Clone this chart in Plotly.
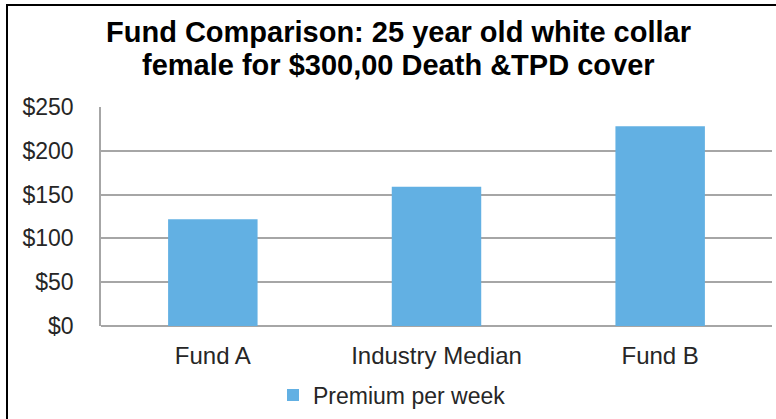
import plotly.graph_objects as go

categories = ["Fund A", "Industry Median", "Fund B"]
premium = [122, 159, 228]
y_ticks = [0, 50, 100, 150, 200, 250]
y_tick_labels = ["$0", "$50", "$100", "$150", "$200", "$250"]
series_name = "Premium per week"
title_lines = ["Fund Comparison: 25 year old white collar",
               "female for $300,00 Death &TPD cover"]

FONT = "Liberation Sans, Arial, sans-serif"
W, H = 776, 419
L, R, T, B = 101, 4, 107, 93

fig = go.Figure()
fig.add_trace(go.Bar(
    x=categories, y=premium, name=series_name,
    marker=dict(color="#62B0E3", line=dict(width=0)),
    showlegend=True,
))

pw = W - L - R
ph = H - T - B

def px_x(px):
    return (px - L) / pw

def px_y(py):
    return (H - B - py) / ph

fig.update_layout(
    width=W, height=H,
    margin=dict(l=L, r=R, t=T, b=B, pad=0, autoexpand=False),
    paper_bgcolor="white", plot_bgcolor="white",
    font=dict(family=FONT, size=23, color="#262626"),
    bargap=0.6,
    xaxis=dict(
        showgrid=False, showline=False, zeroline=False,
        ticks="outside", ticklen=8, tickcolor="rgba(0,0,0,0)",
        tickfont=dict(size=24, color="#262626"),
        fixedrange=True, automargin=False,
    ),
    yaxis=dict(
        range=[0, 250], tickvals=y_ticks, ticktext=y_tick_labels,
        showgrid=True, gridcolor="#A6A6A6", gridwidth=1.5,
        showline=True, linecolor="#A6A6A6", linewidth=1.5,
        zeroline=True, zerolinecolor="#A6A6A6", zerolinewidth=1.5,
        ticks="outside", ticklen=21, tickcolor="rgba(0,0,0,0)",
        tickfont=dict(size=23, color="#262626"),
        fixedrange=True, automargin=False,
    ),
    legend=dict(
        orientation="h", x=px_x(392), xanchor="center",
        y=px_y(395), yanchor="middle",
        font=dict(size=23, color="#262626"),
        bgcolor="rgba(0,0,0,0)",
        itemwidth=30,
    ),
    hovermode=False,
)

# Two-line chart title, placed as text annotations for tight line spacing
for line, cy in zip(title_lines, [32, 65]):
    fig.add_annotation(
        text="<b>" + line + "</b>", showarrow=False,
        xref="paper", yref="paper", x=px_x(398), y=px_y(cy),
        xanchor="center", yanchor="middle",
        font=dict(family=FONT, size=29, color="black"),
    )

# Outer chart frame (only left and top edges visible in the crop)
fig.add_shape(type="rect", xref="paper", yref="paper",
              x0=px_x(7), x1=px_x(W + 20), y0=px_y(H + 20), y1=px_y(5),
              line=dict(color="black", width=2), fillcolor="rgba(0,0,0,0)",
              layer="above")

fig.write_html("out.html")
